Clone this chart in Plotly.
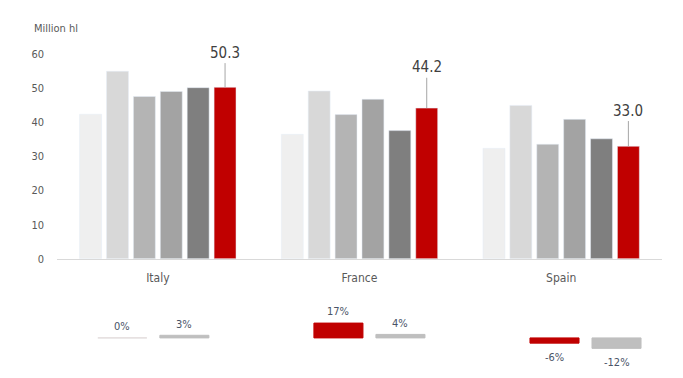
import plotly.graph_objects as go

countries = ["Italy", "France", "Spain"]
series_names = ["Year 1", "Year 2", "Year 3", "Year 4", "Year 5", "Year 6"]
values = [
    [42.4, 36.5, 32.4],
    [55.0, 49.2, 45.0],
    [47.6, 42.3, 33.6],
    [49.1, 46.8, 40.9],
    [50.2, 37.6, 35.2],
    [50.3, 44.2, 33.0],
]
bar_colors = ["#efefef", "#d8d8d8", "#b4b4b4", "#a3a3a3", "#7f7f7f", "#c00000"]

chg_a = [0, 17, -6]
chg_b = [3, 4, -12]
chg_a_labels = ["0%", "17%", "-6%"]
chg_b_labels = ["3%", "4%", "-12%"]
chg_a_colors = ["#e2dcdc", "#c00000", "#c00000"]
chg_b_colors = ["#bfbfbf", "#bfbfbf", "#bfbfbf"]

FONT = ("Noto Sans ExtraCondensed Light, Noto Sans ExtraCondensed, Noto Sans Condensed, "
        "Liberation Sans Narrow, DejaVu Sans Condensed, sans-serif")

# page body has an 8px margin; the photo is slightly compressed vertically (386 -> 378)
OFF = 8
SY = 386 / 378
W, H = 683 - OFF, 386 - OFF


def px_x(x):
    return (x - OFF) / W


def px_y(y):
    return 1 - (y * SY - OFF) / H


fig = go.Figure()
for name, vals, col in zip(series_names, values, bar_colors):
    fig.add_trace(go.Bar(x=countries, y=vals, name=name, marker_color=col,
                         xaxis="x", yaxis="y", showlegend=False))

B_W, A_OFF, B_OFF = 0.227, -0.255, 0.032
fig.add_trace(go.Bar(x=countries, y=chg_a,
                     marker=dict(color=chg_a_colors, line=dict(color=chg_a_colors, width=1)),
                     width=B_W, offset=A_OFF, xaxis="x2", yaxis="y2", showlegend=False))
fig.add_trace(go.Bar(x=countries, y=chg_b,
                     marker=dict(color=chg_b_colors, line=dict(color=chg_b_colors, width=1)),
                     width=B_W, offset=B_OFF, xaxis="x2", yaxis="y2", showlegend=False))

xd = [px_x(57), px_x(662)]
label_ay = [-34, -40, -35]
annotations = []
for i, v in enumerate(values[5]):
    annotations.append(dict(x=i + 0.3333, y=v, xref="x", yref="y", text=f"{v:.1f}",
                            showarrow=True, arrowhead=0, arrowwidth=1, arrowcolor="#a6a6a6",
                            ax=0, ay=label_ay[i] * SY, font=dict(family=FONT, size=15, color="#404040")))
for vals, labels, off in ((chg_a, chg_a_labels, A_OFF), (chg_b, chg_b_labels, B_OFF)):
    for i, (v, t) in enumerate(zip(vals, labels)):
        annotations.append(dict(x=i + off + B_W / 2, y=v, xref="x2", yref="y2", text=t,
                                showarrow=False, yanchor="middle",
                                yshift=(11 if v >= 0 else -14) * SY,
                                font=dict(family=FONT, size=11, color="#4a5468")))
annotations.append(dict(x=px_x(32), y=px_y(28), xref="paper", yref="paper", text="Million hl",
                        showarrow=False, xanchor="left", yanchor="middle",
                        font=dict(family=FONT, size=11, color="#595959")))

fig.update_layout(
    width=W, height=H, margin=dict(l=0, r=0, t=0, b=0),
    paper_bgcolor="white", plot_bgcolor="white",
    barmode="group", bargap=0.2, bargroupgap=0.185,
    font=dict(family=FONT, color="#595959"),
    xaxis=dict(domain=xd, anchor="y", showline=True, linecolor="#d9d9d9", linewidth=1,
               showgrid=False, ticks="", tickfont=dict(family=FONT, size=12, color="#595959"),
               ticklabelstandoff=8),
    yaxis=dict(domain=[px_y(258), px_y(37)], range=[0, 65], tickvals=[0, 10, 20, 30, 40, 50, 60],
               showgrid=False, zeroline=False, showline=False, ticks="",
               tickfont=dict(family=FONT, size=11, color="#595959"), ticklabelstandoff=12),
    xaxis2=dict(domain=xd, anchor="y2", range=[-0.444, 2.356], visible=False),
    yaxis2=dict(domain=[px_y(354.4), px_y(319.6)], range=[-20, 20], visible=False),
    annotations=annotations,
)

fig.write_html("out.html")
